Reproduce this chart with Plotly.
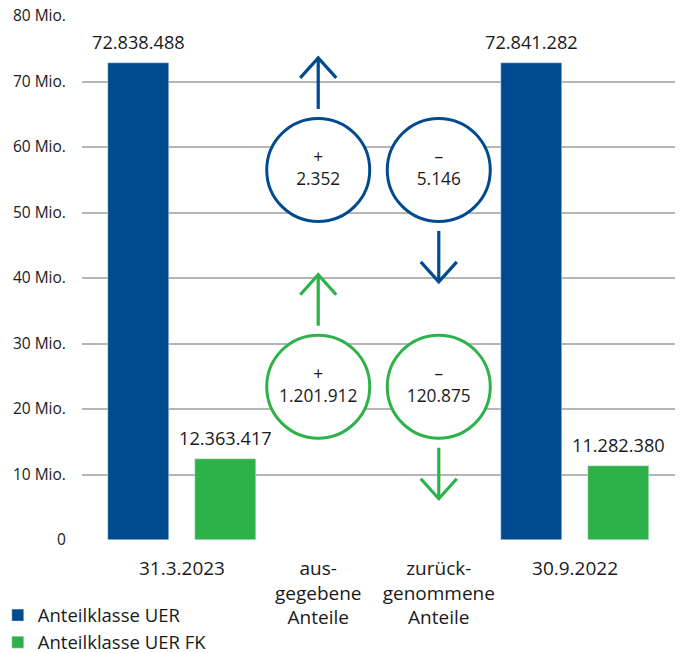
import plotly.graph_objects as go

# Categories along the x axis (bar groups at the two reporting dates, flows in between)
categories = ["31.3.2023", "aus-<br>gegebene<br>Anteile", "zurück-<br>genommene<br>Anteile", "30.9.2022"]
cat_pos = [0, 1.04, 1.96, 3]

series_names = ["Anteilklasse UER", "Anteilklasse UER FK"]
uer_values = [72838488, 72841282]      # at 31.3.2023 and 30.9.2022
fk_values = [12363417, 11282380]

# Share movements in the period: issued (+) and redeemed (–)
uer_issued, uer_redeemed = 2352, 5146
fk_issued, fk_redeemed = 1201912, 120875

y_ticks = [0, 10e6, 20e6, 30e6, 40e6, 50e6, 60e6, 70e6, 80e6]
y_ticktext = ["0", "10 Mio.", "20 Mio.", "30 Mio.", "40 Mio.", "50 Mio.", "60 Mio.", "70 Mio.", "80 Mio."]

BLUE = "#004a8f"
GREEN = "#2db24a"
GRID = "#b5b5b5"
TEXT = "#1a1a1a"
FONT = "Open Sans"

W, H = 681, 653
ML, MR, MT, MB = 82, 6, 16, 113
XR = [-0.763, 3.763]
YR = [0, 80e6]
px_x = (W - ML - MR) / (XR[1] - XR[0])
px_y = (H - MT - MB) / (YR[1] - YR[0])


def dx(p):
    return p / px_x


def dy(p):
    return p / px_y


def de(n):
    return f"{n:,}".replace(",", ".")


fig = go.Figure()

bar_x = [cat_pos[0], cat_pos[3]]
BAR_W = 0.466
fig.add_trace(go.Bar(x=bar_x, y=uer_values, name=series_names[0], marker_color=BLUE,
                     width=BAR_W, offset=-0.565))
fig.add_trace(go.Bar(x=bar_x, y=fk_values, name=series_names[1], marker_color=GREEN,
                     width=BAR_W, offset=0.099))

annotations = []
for xs, vals, off in [(bar_x, uer_values, -0.565), (bar_x, fk_values, 0.099)]:
    for x, v in zip(xs, vals):
        annotations.append(dict(x=x + off + BAR_W / 2, y=v, xref="x", yref="y",
                                text=de(v), showarrow=False,
                                yanchor="bottom", yshift=7,
                                font=dict(family=FONT, size=18.2, color=TEXT)))

# Flow circles with arrows
R = 53
ARROW_GAP, ARROW_LEN, WING_X, WING_Y = 8, 51, 18, 20
circle_rows = [
    (BLUE, 56.5e6, uer_issued, uer_redeemed),
    (GREEN, 23.4e6, fk_issued, fk_redeemed),
]
for color, cy, issued, redeemed in circle_rows:
    fig.add_trace(go.Scatter(
        x=[cat_pos[1], cat_pos[2]], y=[cy, cy], mode="markers+text",
        marker=dict(size=2 * R - 3, color="white", line=dict(color=color, width=3)),
        text=[f"+<br>{de(issued)}", f"–<br>{de(redeemed)}"],
        textposition="middle center",
        textfont=dict(family=FONT, size=17.3, color=TEXT),
        showlegend=False, hoverinfo="skip", cliponaxis=False))
    # up arrow above the issued circle
    cx = cat_pos[1]
    y0 = cy + dy(R + ARROW_GAP)
    yt = y0 + dy(ARROW_LEN)
    ax = [cx, cx, None, cx - dx(WING_X), cx, cx + dx(WING_X)]
    ay = [y0, yt, None, yt - dy(WING_Y), yt, yt - dy(WING_Y)]
    # down arrow below the redeemed circle
    cx = cat_pos[2]
    y0 = cy - dy(R + ARROW_GAP)
    yt = y0 - dy(ARROW_LEN)
    ax += [None, cx, cx, None, cx - dx(WING_X), cx, cx + dx(WING_X)]
    ay += [None, y0, yt, None, yt + dy(WING_Y), yt, yt + dy(WING_Y)]
    fig.add_trace(go.Scatter(x=ax, y=ay, mode="lines",
                             line=dict(color=color, width=3.2),
                             showlegend=False, hoverinfo="skip", cliponaxis=False))

fig.update_layout(
    width=W, height=H,
    margin=dict(l=ML, r=MR, t=MT, b=MB, autoexpand=False),
    paper_bgcolor="white", plot_bgcolor="white",
    separators=",.",
    font=dict(family=FONT, size=17, color=TEXT),
    showlegend=True,
    legend=dict(x=-0.142, xanchor="left", y=-0.108, yanchor="top",
                font=dict(family=FONT, size=18.5, color=TEXT),
                bgcolor="rgba(0,0,0,0)", tracegroupgap=0),
    annotations=annotations,
    bargap=0,
)
fig.update_xaxes(range=XR, tickvals=cat_pos, ticktext=categories, automargin=False,
                 showgrid=False, zeroline=False, showline=False,
                 ticks="outside", ticklen=11, tickcolor="rgba(0,0,0,0)",
                 tickfont=dict(family=FONT, size=19, color=TEXT), fixedrange=True)
fig.update_yaxes(range=YR, tickvals=y_ticks, ticktext=y_ticktext, automargin=False,
                 showgrid=True, gridcolor=GRID, gridwidth=1.5, zeroline=False,
                 showline=False, ticks="outside", ticklen=12, tickcolor="rgba(0,0,0,0)",
                 tickfont=dict(family=FONT, size=15.5, color=TEXT), fixedrange=True)

fig.write_html("out.html")
